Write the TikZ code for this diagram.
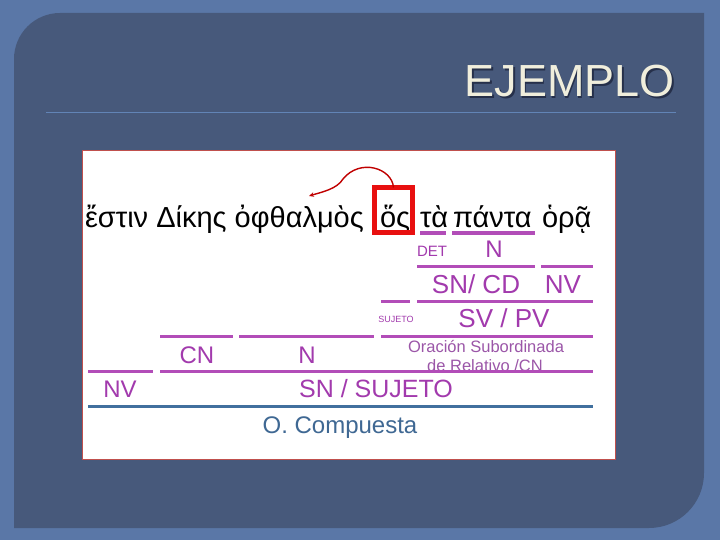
\documentclass[tikz,border=0pt]{standalone}
\usepackage{fontspec}
\setmainfont{Liberation Sans}
\usetikzlibrary{arrows.meta}
\definecolor{outerblue}{HTML}{5A77A7}
\definecolor{innerblue}{HTML}{47597B}
\definecolor{rulecol}{HTML}{6284B6}
\definecolor{titlecol}{HTML}{F0EEDC}
\definecolor{titleshadow}{HTML}{26304A}
\definecolor{pline}{HTML}{B24DB8}
\definecolor{ptext}{HTML}{A23AAD}
\definecolor{psoft}{HTML}{9B56A8}
\definecolor{bline}{HTML}{41709E}
\definecolor{btext}{HTML}{3F6893}
\definecolor{redbox}{HTML}{E81010}
\definecolor{arrowred}{HTML}{C00000}
\definecolor{frame}{HTML}{C0504D}
\newcommand{\fsz}[1]{\fontsize{#1}{#1}\selectfont}
\begin{document}
\begin{tikzpicture}[x=1pt,y=-1pt,
  lbl/.style={inner sep=0pt, outer sep=0pt, anchor=base, text=ptext},
  greek/.style={inner sep=0pt, outer sep=0pt, anchor=base west, text=black, font=\fsz{29}},
  purpleline/.style={draw=pline, line width=3pt},
  blueline/.style={draw=bline, line width=3pt},
  linkarrow/.style={draw=arrowred, line width=1.4pt, -{Stealth[length=5pt,width=4.5pt]}}]
\useasboundingbox (0,0) rectangle (720,540);
% slide background
\fill[outerblue] (0,0) rectangle (720,540);
\fill[innerblue] (14,528) -- (14,59) .. controls (14,33.6) and (34.6,13) .. (60,13)
  -- (704,13) -- (704,473) .. controls (704,503.4) and (679.4,528) .. (649,528) -- cycle;
\draw[rulecol, line width=0.8pt] (46,112) -- (676,112);
% title with its shadow
\node[inner sep=0pt, anchor=base east, text=titleshadow, font=\fsz{45}] (titleshade) at (676.5,98.5) {EJEMPLO};
\node[inner sep=0pt, anchor=base east, text=titlecol, font=\fsz{45}] (title) at (675,97) {EJEMPLO};
% white panel
\fill[white, draw=frame, line width=0.8pt] (82,150) rectangle (615,459);
% Greek sentence
\node[greek] (w1) at (85,227) {ἔστιν Δίκης ὀφθαλμὸς};
\node[greek] (w2) at (380,227) {ὅς};
\node[greek] (w3) at (420,227) {τὰ};
\node[greek] (w4) at (453,227) {πάντα};
\node[greek] (w5) at (542,227) {ὁρᾷ};
% red box round the relative pronoun
\node[draw=redbox, line width=5pt, minimum width=38pt, minimum height=45pt, inner sep=0pt, outer sep=0pt] (box) at (393.5,210) {};
\coordinate (antecedent) at (309,196);
\draw[linkarrow] (box.north) .. controls (392,168) and (360,158) .. (343,179)
  .. controls (337,189) and (322,192) .. (antecedent);
% level 1
\draw[purpleline] (420,233) -- (446,233);
\draw[purpleline] (452,233) -- (535,233);
\node[lbl, font=\fsz{15}] (det) at (432,256) {DET};
\node[lbl, font=\fsz{24}] (n1) at (494,258) {N};
% level 2
\draw[purpleline] (417,266) -- (535,266);
\draw[purpleline] (541,266) -- (593,266);
\node[lbl, font=\fsz{26}] (sncd) at (476,293) {SN/ CD};
\node[lbl, font=\fsz{26}] (nv1) at (563,293) {NV};
% level 3
\draw[purpleline] (381,301) -- (410,301);
\draw[purpleline] (417,301) -- (593,301);
\node[lbl, font=\fsz{9}] (suj) at (396,322) {SUJETO};
\node[lbl, font=\fsz{26}] (svpv) at (504,327) {SV / PV};
% level 4
\draw[purpleline] (160,336) -- (233,336);
\draw[purpleline] (239,336) -- (374,336);
\draw[purpleline] (381,336) -- (593,336);
\node[lbl, font=\fsz{24}] (cn) at (197,363) {CN};
\node[lbl, font=\fsz{24}] (n2) at (307,363) {N};
\node[lbl, text=psoft, font=\fsz{16.5}] (or1) at (486,352) {Oración Subordinada};
\node[lbl, text=psoft, font=\fsz{16.5}] (or2) at (485,371) {de Relativo /CN};
% level 5
\draw[purpleline] (88,371) -- (153,371);
\draw[purpleline] (160,371) -- (593,371);
\node[lbl, font=\fsz{24}] (nv2) at (120,397) {NV};
\node[lbl, font=\fsz{25}] (snsuj) at (376,397) {SN / SUJETO};
% level 6
\draw[blueline] (88,406) -- (593,406);
\node[lbl, text=btext, font=\fsz{24}] (oc) at (340,433) {O. Compuesta};
\end{tikzpicture}
\end{document}
